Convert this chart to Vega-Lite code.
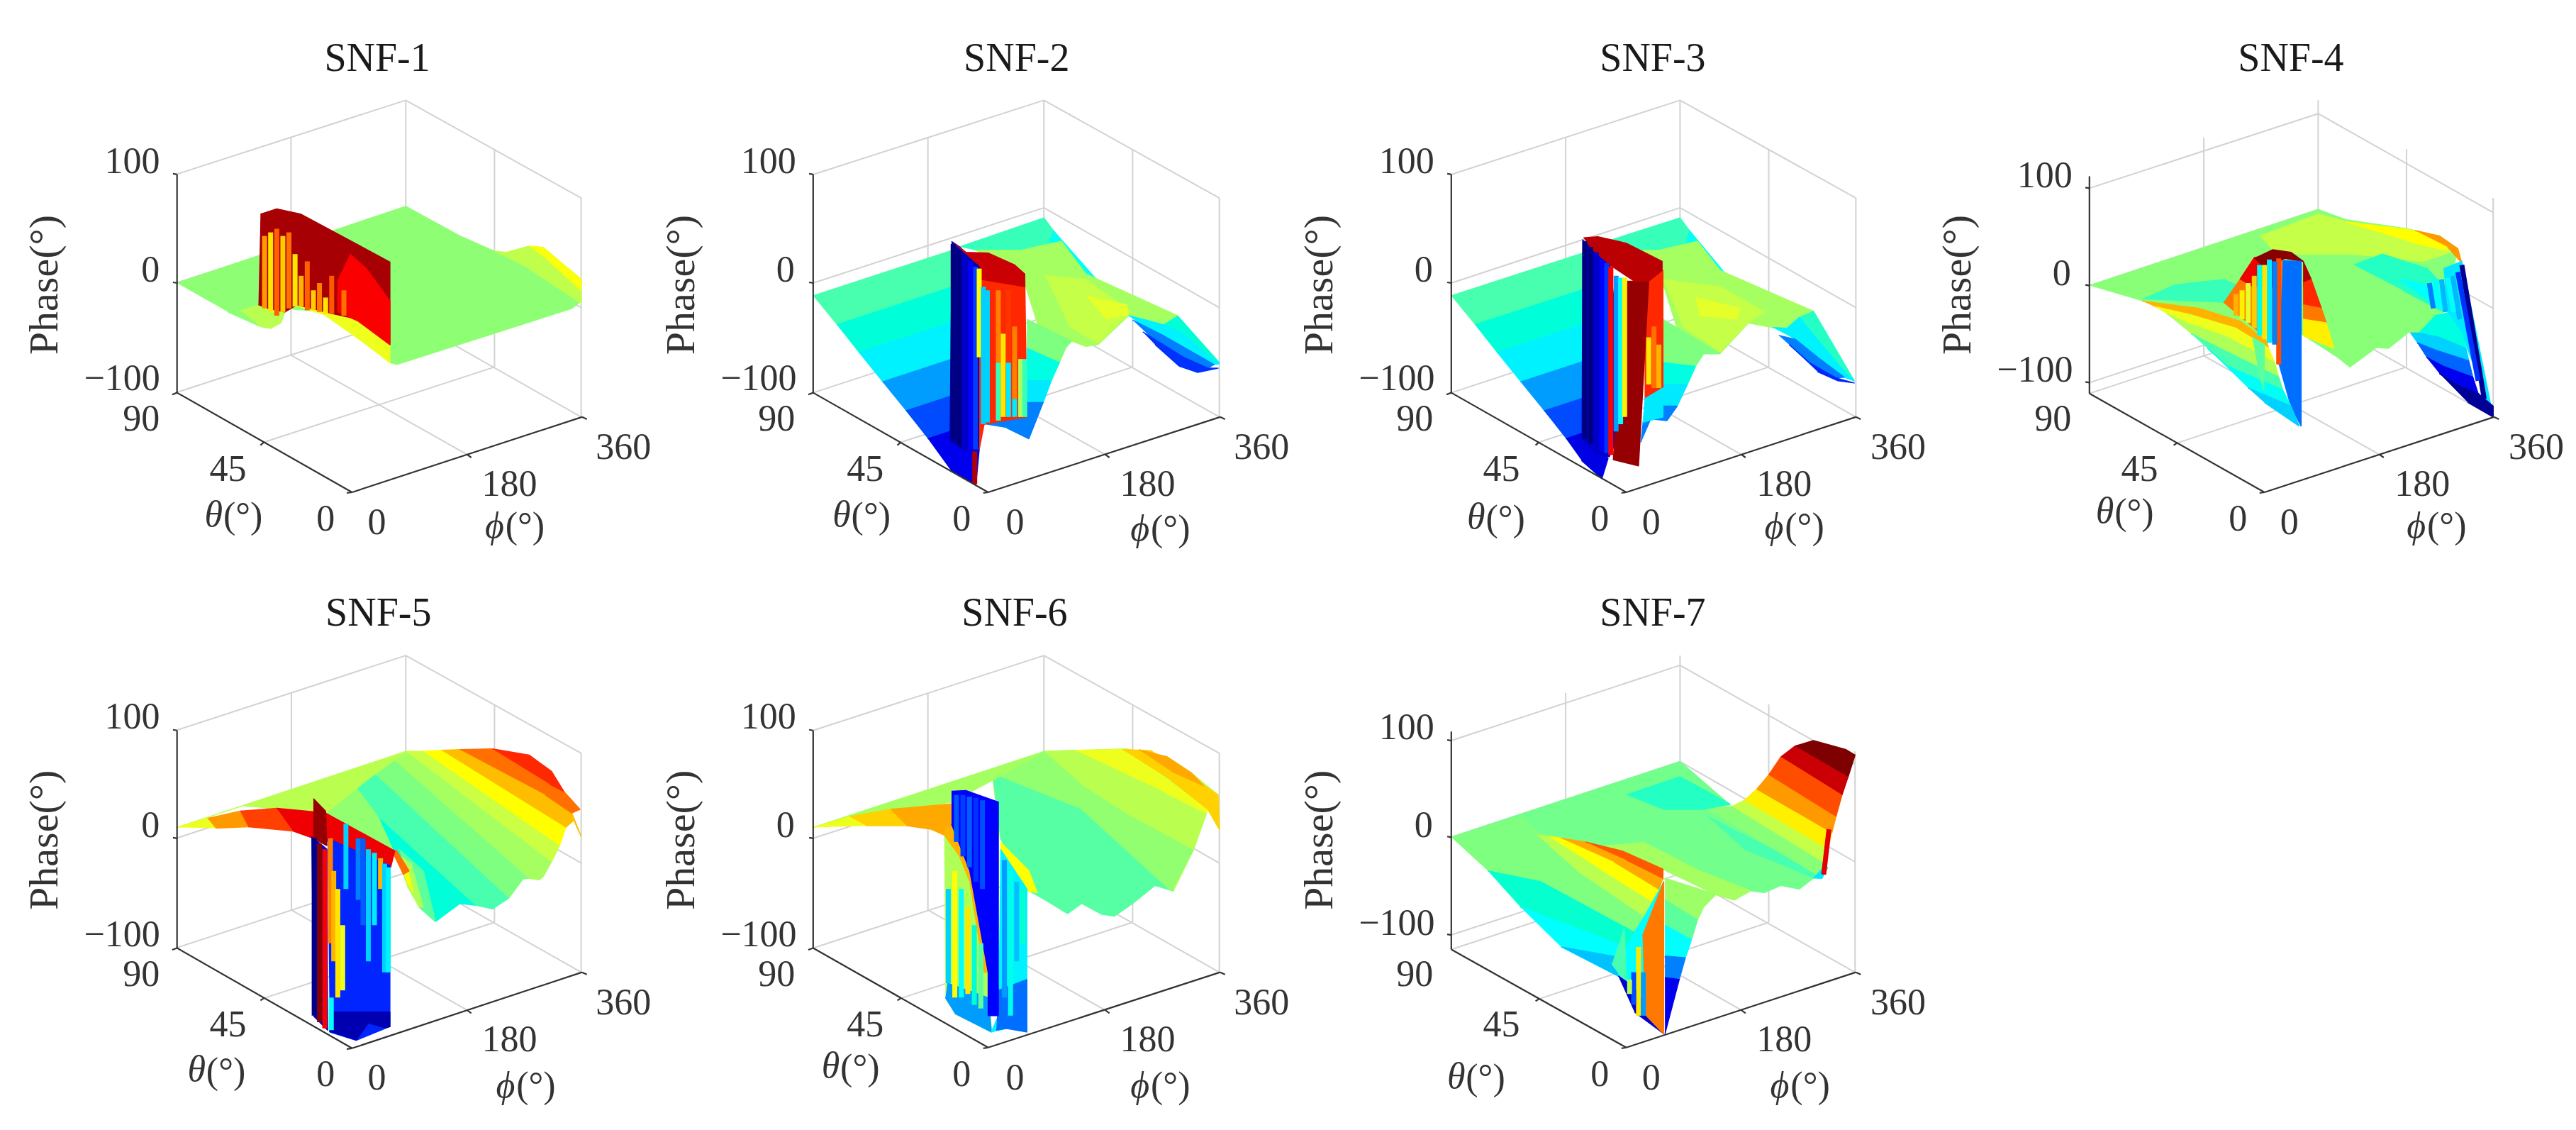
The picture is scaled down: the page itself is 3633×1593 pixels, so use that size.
{"$schema":"https://vega.github.io/schema/vega-lite/v6.json","padding":0,"background":"white","spacing":0,"bounds":"flush","columns":4,"config":{"view":{"stroke":null}},
"data":{"values":[
{"p":1,"g":1,"u":997,"v":275,"a":997,"b":875},{"p":1,"g":1,"u":1428,"v":545,"a":1428,"b":1150},{"p":1,"g":1,"u":715,"v":378,"a":715,"b":979},{"p":1,"g":1,"u":1215,"v":410,"a":1215,"b":1012},{"p":1,"g":1,"u":432,"v":480,"a":997,"b":275},{"p":1,"g":1,"u":997,"v":275,"a":1428,"b":545},{"p":1,"g":1,"u":432,"v":780,"a":997,"b":575},{"p":1,"g":1,"u":997,"v":575,"a":1428,"b":848},{"p":1,"g":1,"u":432,"v":1083,"a":997,"b":875},{"p":1,"g":1,"u":997,"v":875,"a":1428,"b":1150},{"p":1,"g":1,"u":715,"v":979,"a":1148,"b":1254},{"p":1,"g":1,"u":648,"v":1220,"a":1215,"b":1012},
{"p":1,"g":2,"u":435,"v":480,"a":435,"b":1083},{"p":1,"g":2,"u":435,"v":1083,"a":865,"b":1358},{"p":1,"g":2,"u":865,"v":1358,"a":1430,"b":1150},{"p":1,"g":2,"u":435,"v":480,"a":425,"b":478},{"p":1,"g":2,"u":435,"v":780,"a":425,"b":778},{"p":1,"g":2,"u":435,"v":1083,"a":423,"b":1088},{"p":1,"g":2,"u":648,"v":1220,"a":640,"b":1228},{"p":1,"g":2,"u":1148,"v":1254,"a":1158,"b":1262},{"p":1,"g":2,"u":865,"v":1358,"a":852,"b":1360},{"p":1,"g":2,"u":1430,"v":1150,"a":1442,"b":1156},
{"p":1,"c":"h","l":"SNF-1","u":927,"v":160},{"p":1,"c":"f","l":"Phase(°)","u":112,"v":785},{"p":1,"c":"t","l":"100","u":325,"v":445},{"p":1,"c":"t","l":"0","u":370,"v":745},{"p":1,"c":"t","l":"−100","u":300,"v":1045},{"p":1,"c":"t","l":"90","u":347,"v":1157},{"p":1,"c":"t","l":"45","u":560,"v":1295},{"p":1,"c":"t","l":"0","u":800,"v":1432},{"p":1,"c":"t","l":"0","u":926,"v":1442},{"p":1,"c":"t","l":"180","u":1252,"v":1337},{"p":1,"c":"t","l":"360","u":1532,"v":1235},{"p":1,"c":"i","l":"θ","u":525,"v":1420},{"p":1,"c":"t","l":"(°)","u":597,"v":1425},{"p":1,"c":"i","l":"ϕ","u":1215,"v":1452},{"p":1,"c":"t","l":"(°)","u":1290,"v":1452},
{"p":1,"k":1,"u":435,"v":780,"z":3},{"p":1,"k":1,"u":997,"v":568,"z":3},{"p":1,"k":1,"u":1130,"v":650,"z":3},{"p":1,"k":1,"u":1215,"v":692,"z":3},{"p":1,"k":1,"u":1300,"v":740,"z":3},{"p":1,"k":1,"u":1428,"v":830,"z":3},{"p":1,"k":1,"u":1405,"v":850,"z":3},{"p":1,"k":1,"u":975,"v":1005,"z":3},{"p":1,"k":1,"u":960,"v":1000,"z":3},{"p":1,"k":1,"u":870,"v":900,"z":3},{"p":1,"k":1,"u":800,"v":860,"z":3},{"p":1,"k":1,"u":700,"v":850,"z":3},{"p":1,"k":1,"u":665,"v":905,"z":3},{"p":1,"k":1,"u":640,"v":900,"z":3},{"p":1,"k":1,"u":560,"v":860,"z":3},
{"p":1,"k":2,"u":1215,"v":692,"z":13},{"p":1,"k":2,"u":1245,"v":695,"z":13},{"p":1,"k":2,"u":1300,"v":678,"z":13},{"p":1,"k":2,"u":1335,"v":682,"z":13},{"p":1,"k":2,"u":1428,"v":770,"z":13},{"p":1,"k":2,"u":1428,"v":835,"z":13},{"p":1,"k":2,"u":1380,"v":800,"z":13},{"p":1,"k":2,"u":1300,"v":740,"z":13},
{"p":1,"k":3,"u":1300,"v":678,"z":24},{"p":1,"k":3,"u":1335,"v":682,"z":24},{"p":1,"k":3,"u":1428,"v":770,"z":24},{"p":1,"k":3,"u":1428,"v":800,"z":24},{"p":1,"k":3,"u":1350,"v":720,"z":24},
{"p":1,"k":4,"u":590,"v":855,"z":12},{"p":1,"k":4,"u":650,"v":838,"z":12},{"p":1,"k":4,"u":700,"v":860,"z":12},{"p":1,"k":4,"u":690,"v":890,"z":12},{"p":1,"k":4,"u":665,"v":905,"z":12},{"p":1,"k":4,"u":640,"v":900,"z":12},
{"p":1,"k":5,"u":720,"v":840,"z":22},{"p":1,"k":5,"u":830,"v":870,"z":22},{"p":1,"k":5,"u":870,"v":870,"z":22},{"p":1,"k":5,"u":958,"v":945,"z":22},{"p":1,"k":5,"u":958,"v":1000,"z":22},{"p":1,"k":5,"u":930,"v":975,"z":22},{"p":1,"k":5,"u":870,"v":925,"z":22},{"p":1,"k":5,"u":800,"v":870,"z":22},
{"p":1,"k":6,"u":640,"v":590,"z":92},{"p":1,"k":6,"u":680,"v":575,"z":92},{"p":1,"k":6,"u":740,"v":590,"z":92},{"p":1,"k":6,"u":958,"v":722,"z":92},{"p":1,"k":6,"u":958,"v":950,"z":92},{"p":1,"k":6,"u":880,"v":880,"z":92},{"p":1,"k":6,"u":820,"v":865,"z":92},{"p":1,"k":6,"u":730,"v":840,"z":92},{"p":1,"k":6,"u":700,"v":860,"z":92},{"p":1,"k":6,"u":660,"v":850,"z":92},{"p":1,"k":6,"u":635,"v":840,"z":92},
{"p":1,"k":7,"u":860,"v":700,"z":76},{"p":1,"k":7,"u":900,"v":740,"z":76},{"p":1,"k":7,"u":958,"v":830,"z":76},{"p":1,"k":7,"u":958,"v":950,"z":76},{"p":1,"k":7,"u":880,"v":885,"z":76},{"p":1,"k":7,"u":830,"v":860,"z":76},{"p":1,"k":7,"u":830,"v":770,"z":76},
{"p":1,"s":1,"u":650,"v":650,"a":650,"b":850,"z":45},{"p":1,"s":1,"u":665,"v":640,"a":665,"b":860,"z":30},{"p":1,"s":1,"u":680,"v":630,"a":680,"b":870,"z":60},{"p":1,"s":1,"u":695,"v":650,"a":695,"b":860,"z":35},{"p":1,"s":1,"u":710,"v":640,"a":710,"b":850,"z":55},{"p":1,"s":1,"u":725,"v":700,"a":725,"b":845,"z":30},{"p":1,"s":1,"u":740,"v":760,"a":740,"b":845,"z":40},{"p":1,"s":1,"u":755,"v":720,"a":755,"b":855,"z":60},{"p":1,"s":1,"u":770,"v":800,"a":770,"b":855,"z":35},{"p":1,"s":1,"u":785,"v":780,"a":785,"b":860,"z":50},{"p":1,"s":1,"u":800,"v":820,"a":800,"b":865,"z":30},{"p":1,"s":1,"u":815,"v":760,"a":815,"b":865,"z":62},{"p":1,"s":1,"u":845,"v":800,"a":845,"b":870,"z":55},

{"p":2,"g":1,"u":997,"v":275,"a":997,"b":875},{"p":2,"g":1,"u":1428,"v":545,"a":1428,"b":1150},{"p":2,"g":1,"u":712,"v":378,"a":712,"b":979},{"p":2,"g":1,"u":1215,"v":410,"a":1215,"b":1012},{"p":2,"g":1,"u":430,"v":480,"a":997,"b":275},{"p":2,"g":1,"u":997,"v":275,"a":1428,"b":545},{"p":2,"g":1,"u":430,"v":780,"a":997,"b":572},{"p":2,"g":1,"u":997,"v":572,"a":1428,"b":848},{"p":2,"g":1,"u":430,"v":1083,"a":997,"b":875},{"p":2,"g":1,"u":997,"v":875,"a":1428,"b":1150},{"p":2,"g":1,"u":712,"v":979,"a":1148,"b":1254},{"p":2,"g":1,"u":645,"v":1220,"a":1215,"b":1012},
{"p":2,"g":2,"u":430,"v":480,"a":430,"b":1083},{"p":2,"g":2,"u":430,"v":1083,"a":860,"b":1358},{"p":2,"g":2,"u":860,"v":1358,"a":1430,"b":1150},{"p":2,"g":2,"u":430,"v":480,"a":420,"b":478},{"p":2,"g":2,"u":430,"v":780,"a":420,"b":778},{"p":2,"g":2,"u":430,"v":1083,"a":418,"b":1088},{"p":2,"g":2,"u":645,"v":1220,"a":637,"b":1228},{"p":2,"g":2,"u":1148,"v":1254,"a":1158,"b":1262},{"p":2,"g":2,"u":860,"v":1358,"a":848,"b":1360},{"p":2,"g":2,"u":1430,"v":1150,"a":1442,"b":1156},
{"p":2,"c":"h","l":"SNF-2","u":930,"v":160},{"p":2,"c":"f","l":"Phase(°)","u":108,"v":785},{"p":2,"c":"t","l":"100","u":320,"v":445},{"p":2,"c":"t","l":"0","u":362,"v":745},{"p":2,"c":"t","l":"−100","u":296,"v":1045},{"p":2,"c":"t","l":"90","u":340,"v":1157},{"p":2,"c":"t","l":"45","u":558,"v":1295},{"p":2,"c":"t","l":"0","u":795,"v":1432},{"p":2,"c":"t","l":"0","u":926,"v":1442},{"p":2,"c":"t","l":"180","u":1252,"v":1337},{"p":2,"c":"t","l":"360","u":1532,"v":1235},{"p":2,"c":"i","l":"θ","u":500,"v":1420},{"p":2,"c":"t","l":"(°)","u":572,"v":1425},{"p":2,"c":"i","l":"ϕ","u":1233,"v":1460},{"p":2,"c":"t","l":"(°)","u":1308,"v":1460},
{"p":2,"k":1,"u":430,"v":815,"z":-8},{"p":2,"k":1,"u":790,"v":683,"z":-8},{"p":2,"k":1,"u":790,"v":784,"z":-8},{"p":2,"k":1,"u":488,"v":895,"z":-8},
{"p":2,"k":2,"u":488,"v":895,"z":-16},{"p":2,"k":2,"u":790,"v":784,"z":-16},{"p":2,"k":2,"u":790,"v":881,"z":-16},{"p":2,"k":2,"u":542,"v":972,"z":-16},
{"p":2,"k":3,"u":542,"v":972,"z":-28},{"p":2,"k":3,"u":790,"v":881,"z":-28},{"p":2,"k":3,"u":790,"v":983,"z":-28},{"p":2,"k":3,"u":600,"v":1053,"z":-28},
{"p":2,"k":4,"u":600,"v":1053,"z":-45},{"p":2,"k":4,"u":790,"v":983,"z":-45},{"p":2,"k":4,"u":790,"v":1084,"z":-45},{"p":2,"k":4,"u":658,"v":1133,"z":-45},
{"p":2,"k":5,"u":658,"v":1133,"z":-65},{"p":2,"k":5,"u":790,"v":1084,"z":-65},{"p":2,"k":5,"u":790,"v":1181,"z":-65},{"p":2,"k":5,"u":712,"v":1210,"z":-65},
{"p":2,"k":6,"u":712,"v":1210,"z":-78},{"p":2,"k":6,"u":790,"v":1181,"z":-78},{"p":2,"k":6,"u":838,"v":1240,"z":-78},{"p":2,"k":6,"u":830,"v":1335,"z":-78},{"p":2,"k":6,"u":770,"v":1300,"z":-78},
{"p":2,"k":7,"u":790,"v":680,"z":-10},{"p":2,"k":7,"u":997,"v":600,"z":-10},{"p":2,"k":7,"u":1040,"v":665,"z":-10},{"p":2,"k":7,"u":940,"v":690,"z":-10},{"p":2,"k":7,"u":830,"v":690,"z":-10},
{"p":2,"k":8,"u":1020,"v":635,"z":-22},{"p":2,"k":8,"u":1130,"v":775,"z":-22},{"p":2,"k":8,"u":1090,"v":755,"z":-22},{"p":2,"k":8,"u":1000,"v":695,"z":-22},
{"p":2,"k":9,"u":830,"v":690,"z":8},{"p":2,"k":9,"u":940,"v":690,"z":8},{"p":2,"k":9,"u":1040,"v":665,"z":8},{"p":2,"k":9,"u":1100,"v":755,"z":8},{"p":2,"k":9,"u":1325,"v":870,"z":8},{"p":2,"k":9,"u":1290,"v":895,"z":8},{"p":2,"k":9,"u":1240,"v":880,"z":8},{"p":2,"k":9,"u":1205,"v":870,"z":8},{"p":2,"k":9,"u":1130,"v":950,"z":8},{"p":2,"k":9,"u":1100,"v":955,"z":8},{"p":2,"k":9,"u":1065,"v":940,"z":8},{"p":2,"k":9,"u":1000,"v":960,"z":8},{"p":2,"k":9,"u":950,"v":780,"z":8},
{"p":2,"k":10,"u":1000,"v":760,"z":14},{"p":2,"k":10,"u":1100,"v":770,"z":14},{"p":2,"k":10,"u":1210,"v":860,"z":14},{"p":2,"k":10,"u":1130,"v":945,"z":14},{"p":2,"k":10,"u":1060,"v":900,"z":14},
{"p":2,"k":11,"u":1100,"v":815,"z":20},{"p":2,"k":11,"u":1200,"v":840,"z":20},{"p":2,"k":11,"u":1205,"v":868,"z":20},{"p":2,"k":11,"u":1150,"v":880,"z":20},
{"p":2,"k":12,"u":1325,"v":870,"z":-15},{"p":2,"k":12,"u":1428,"v":1000,"z":-15},{"p":2,"k":12,"u":1410,"v":990,"z":-15},{"p":2,"k":12,"u":1340,"v":920,"z":-15},{"p":2,"k":12,"u":1290,"v":895,"z":-15},
{"p":2,"k":13,"u":1205,"v":870,"z":-28},{"p":2,"k":13,"u":1240,"v":880,"z":-28},{"p":2,"k":13,"u":1290,"v":895,"z":-28},{"p":2,"k":13,"u":1340,"v":920,"z":-28},{"p":2,"k":13,"u":1410,"v":990,"z":-28},{"p":2,"k":13,"u":1428,"v":1003,"z":-28},{"p":2,"k":13,"u":1415,"v":1005,"z":-28},{"p":2,"k":13,"u":1360,"v":970,"z":-28},{"p":2,"k":13,"u":1230,"v":890,"z":-28},
{"p":2,"k":14,"u":1215,"v":882,"z":-50},{"p":2,"k":14,"u":1290,"v":925,"z":-50},{"p":2,"k":14,"u":1360,"v":970,"z":-50},{"p":2,"k":14,"u":1415,"v":1005,"z":-50},{"p":2,"k":14,"u":1400,"v":1015,"z":-50},{"p":2,"k":14,"u":1340,"v":985,"z":-50},{"p":2,"k":14,"u":1260,"v":930,"z":-50},
{"p":2,"k":15,"u":1240,"v":915,"z":-70},{"p":2,"k":15,"u":1340,"v":985,"z":-70},{"p":2,"k":15,"u":1400,"v":1015,"z":-70},{"p":2,"k":15,"u":1425,"v":1015,"z":-70},{"p":2,"k":15,"u":1375,"v":1027,"z":-70},{"p":2,"k":15,"u":1330,"v":1010,"z":-70},{"p":2,"k":15,"u":1270,"v":950,"z":-70},
{"p":2,"k":16,"u":955,"v":880,"z":0},{"p":2,"k":16,"u":1065,"v":940,"z":0},{"p":2,"k":16,"u":1050,"v":960,"z":0},{"p":2,"k":16,"u":1035,"v":1000,"z":0},{"p":2,"k":16,"u":955,"v":970,"z":0},
{"p":2,"k":17,"u":955,"v":960,"z":-18},{"p":2,"k":17,"u":1035,"v":1000,"z":-18},{"p":2,"k":17,"u":1015,"v":1050,"z":-18},{"p":2,"k":17,"u":955,"v":1050,"z":-18},
{"p":2,"k":18,"u":955,"v":1050,"z":-30},{"p":2,"k":18,"u":1015,"v":1050,"z":-30},{"p":2,"k":18,"u":995,"v":1110,"z":-30},{"p":2,"k":18,"u":955,"v":1110,"z":-30},
{"p":2,"k":19,"u":850,"v":1170,"z":-50},{"p":2,"k":19,"u":955,"v":1110,"z":-50},{"p":2,"k":19,"u":995,"v":1110,"z":-50},{"p":2,"k":19,"u":960,"v":1210,"z":-50},{"p":2,"k":19,"u":905,"v":1180,"z":-50},
{"p":2,"k":20,"u":770,"v":665,"z":-90},{"p":2,"k":20,"u":790,"v":680,"z":-90},{"p":2,"k":20,"u":840,"v":735,"z":-90},{"p":2,"k":20,"u":838,"v":1240,"z":-90},{"p":2,"k":20,"u":800,"v":1240,"z":-90},{"p":2,"k":20,"u":765,"v":1215,"z":-90},
{"p":2,"k":21,"u":838,"v":760,"z":72},{"p":2,"k":21,"u":950,"v":770,"z":72},{"p":2,"k":21,"u":955,"v":1150,"z":72},{"p":2,"k":21,"u":925,"v":1155,"z":72},{"p":2,"k":21,"u":850,"v":1170,"z":72},{"p":2,"k":21,"u":838,"v":1240,"z":72},
{"p":2,"k":22,"u":775,"v":670,"z":85},{"p":2,"k":22,"u":805,"v":695,"z":85},{"p":2,"k":22,"u":860,"v":697,"z":85},{"p":2,"k":22,"u":925,"v":730,"z":85},{"p":2,"k":22,"u":950,"v":755,"z":85},{"p":2,"k":22,"u":950,"v":790,"z":85},{"p":2,"k":22,"u":845,"v":770,"z":85},{"p":2,"k":22,"u":840,"v":735,"z":85},
{"p":2,"s":1,"u":774,"v":672,"a":774,"b":1215,"z":-100},{"p":2,"s":1,"u":788,"v":690,"a":788,"b":1228,"z":-100},{"p":2,"s":1,"u":802,"v":705,"a":802,"b":1238,"z":-85},{"p":2,"s":1,"u":816,"v":720,"a":816,"b":1240,"z":-75},{"p":2,"s":1,"u":829,"v":735,"a":829,"b":1240,"z":-68},{"p":2,"s":1,"u":827,"v":1245,"a":827,"b":1335,"z":90},{"p":2,"s":1,"u":838,"v":740,"a":838,"b":985,"z":25},{"p":2,"s":1,"u":848,"v":790,"a":848,"b":1170,"z":-35},{"p":2,"s":1,"u":858,"v":800,"a":858,"b":1165,"z":-35},{"p":2,"s":1,"u":885,"v":800,"a":885,"b":1000,"z":50},{"p":2,"s":1,"u":885,"v":1000,"a":885,"b":1160,"z":-10},{"p":2,"s":1,"u":897,"v":920,"a":897,"b":1150,"z":30},{"p":2,"s":1,"u":910,"v":800,"a":910,"b":1000,"z":70},{"p":2,"s":1,"u":910,"v":1000,"a":910,"b":1150,"z":-30},{"p":2,"s":1,"u":925,"v":900,"a":925,"b":1100,"z":50},{"p":2,"s":1,"u":925,"v":1100,"a":925,"b":1150,"z":-30},{"p":2,"s":1,"u":940,"v":990,"a":940,"b":1150,"z":10},{"p":2,"s":1,"u":950,"v":990,"a":950,"b":1150,"z":-10},

{"p":3,"g":1,"u":992,"v":275,"a":992,"b":875},{"p":3,"g":1,"u":1424,"v":545,"a":1424,"b":1150},{"p":3,"g":1,"u":711,"v":378,"a":711,"b":979},{"p":3,"g":1,"u":1210,"v":410,"a":1210,"b":1012},{"p":3,"g":1,"u":430,"v":480,"a":992,"b":275},{"p":3,"g":1,"u":992,"v":275,"a":1424,"b":545},{"p":3,"g":1,"u":430,"v":780,"a":992,"b":572},{"p":3,"g":1,"u":992,"v":572,"a":1424,"b":848},{"p":3,"g":1,"u":430,"v":1083,"a":992,"b":875},{"p":3,"g":1,"u":992,"v":875,"a":1424,"b":1150},{"p":3,"g":1,"u":711,"v":979,"a":1143,"b":1254},{"p":3,"g":1,"u":645,"v":1220,"a":1210,"b":1012},
{"p":3,"g":2,"u":430,"v":480,"a":430,"b":1083},{"p":3,"g":2,"u":430,"v":1083,"a":860,"b":1358},{"p":3,"g":2,"u":860,"v":1358,"a":1424,"b":1150},{"p":3,"g":2,"u":430,"v":480,"a":420,"b":478},{"p":3,"g":2,"u":430,"v":780,"a":420,"b":778},{"p":3,"g":2,"u":430,"v":1083,"a":418,"b":1088},{"p":3,"g":2,"u":645,"v":1220,"a":637,"b":1228},{"p":3,"g":2,"u":1143,"v":1254,"a":1153,"b":1262},{"p":3,"g":2,"u":860,"v":1358,"a":848,"b":1360},{"p":3,"g":2,"u":1424,"v":1150,"a":1436,"b":1156},
{"p":3,"c":"h","l":"SNF-3","u":925,"v":160},{"p":3,"c":"f","l":"Phase(°)","u":108,"v":785},{"p":3,"c":"t","l":"100","u":320,"v":445},{"p":3,"c":"t","l":"0","u":362,"v":745},{"p":3,"c":"t","l":"−100","u":296,"v":1045},{"p":3,"c":"t","l":"90","u":340,"v":1157},{"p":3,"c":"t","l":"45","u":553,"v":1295},{"p":3,"c":"t","l":"0","u":795,"v":1432},{"p":3,"c":"t","l":"0","u":921,"v":1442},{"p":3,"c":"t","l":"180","u":1248,"v":1337},{"p":3,"c":"t","l":"360","u":1528,"v":1235},{"p":3,"c":"i","l":"θ","u":491,"v":1427},{"p":3,"c":"t","l":"(°)","u":563,"v":1432},{"p":3,"c":"i","l":"ϕ","u":1223,"v":1455},{"p":3,"c":"t","l":"(°)","u":1298,"v":1455},
{"p":3,"k":1,"u":430,"v":815,"z":-8},{"p":3,"k":1,"u":775,"v":689,"z":-8},{"p":3,"k":1,"u":775,"v":790,"z":-8},{"p":3,"k":1,"u":488,"v":895,"z":-8},
{"p":3,"k":2,"u":488,"v":895,"z":-16},{"p":3,"k":2,"u":775,"v":790,"z":-16},{"p":3,"k":2,"u":775,"v":886,"z":-16},{"p":3,"k":2,"u":542,"v":972,"z":-16},
{"p":3,"k":3,"u":542,"v":972,"z":-28},{"p":3,"k":3,"u":775,"v":886,"z":-28},{"p":3,"k":3,"u":775,"v":989,"z":-28},{"p":3,"k":3,"u":600,"v":1053,"z":-28},
{"p":3,"k":4,"u":600,"v":1053,"z":-45},{"p":3,"k":4,"u":775,"v":989,"z":-45},{"p":3,"k":4,"u":775,"v":1090,"z":-45},{"p":3,"k":4,"u":658,"v":1133,"z":-45},
{"p":3,"k":5,"u":658,"v":1133,"z":-65},{"p":3,"k":5,"u":775,"v":1090,"z":-65},{"p":3,"k":5,"u":775,"v":1186,"z":-65},{"p":3,"k":5,"u":712,"v":1210,"z":-65},
{"p":3,"k":6,"u":712,"v":1210,"z":-80},{"p":3,"k":6,"u":775,"v":1186,"z":-80},{"p":3,"k":6,"u":815,"v":1265,"z":-80},{"p":3,"k":6,"u":800,"v":1320,"z":-80},{"p":3,"k":6,"u":750,"v":1270,"z":-80},
{"p":3,"k":7,"u":770,"v":680,"z":-10},{"p":3,"k":7,"u":992,"v":600,"z":-10},{"p":3,"k":7,"u":1035,"v":665,"z":-10},{"p":3,"k":7,"u":940,"v":690,"z":-10},{"p":3,"k":7,"u":830,"v":690,"z":-10},
{"p":3,"k":8,"u":1015,"v":635,"z":-22},{"p":3,"k":8,"u":1115,"v":770,"z":-22},{"p":3,"k":8,"u":1080,"v":750,"z":-22},{"p":3,"k":8,"u":1000,"v":695,"z":-22},
{"p":3,"k":9,"u":830,"v":690,"z":8},{"p":3,"k":9,"u":940,"v":690,"z":8},{"p":3,"k":9,"u":1035,"v":665,"z":8},{"p":3,"k":9,"u":1090,"v":745,"z":8},{"p":3,"k":9,"u":1320,"v":858,"z":8},{"p":3,"k":9,"u":1285,"v":875,"z":8},{"p":3,"k":9,"u":1255,"v":905,"z":8},{"p":3,"k":9,"u":1220,"v":903,"z":8},{"p":3,"k":9,"u":1160,"v":890,"z":8},{"p":3,"k":9,"u":1090,"v":975,"z":8},{"p":3,"k":9,"u":1050,"v":975,"z":8},{"p":3,"k":9,"u":1000,"v":960,"z":8},{"p":3,"k":9,"u":950,"v":780,"z":8},
{"p":3,"k":10,"u":950,"v":770,"z":14},{"p":3,"k":10,"u":1090,"v":790,"z":14},{"p":3,"k":10,"u":1200,"v":860,"z":14},{"p":3,"k":10,"u":1160,"v":888,"z":14},{"p":3,"k":10,"u":1090,"v":970,"z":14},{"p":3,"k":10,"u":1000,"v":900,"z":14},
{"p":3,"k":11,"u":1030,"v":820,"z":20},{"p":3,"k":11,"u":1140,"v":850,"z":20},{"p":3,"k":11,"u":1130,"v":880,"z":20},{"p":3,"k":11,"u":1040,"v":870,"z":20},
{"p":3,"k":12,"u":1285,"v":875,"z":-12},{"p":3,"k":12,"u":1320,"v":858,"z":-12},{"p":3,"k":12,"u":1420,"v":1050,"z":-12},{"p":3,"k":12,"u":1400,"v":1030,"z":-12},{"p":3,"k":12,"u":1340,"v":950,"z":-12},
{"p":3,"k":13,"u":1220,"v":903,"z":-28},{"p":3,"k":13,"u":1255,"v":905,"z":-28},{"p":3,"k":13,"u":1285,"v":875,"z":-28},{"p":3,"k":13,"u":1340,"v":950,"z":-28},{"p":3,"k":13,"u":1400,"v":1030,"z":-28},{"p":3,"k":13,"u":1420,"v":1050,"z":-28},{"p":3,"k":13,"u":1395,"v":1040,"z":-28},{"p":3,"k":13,"u":1330,"v":985,"z":-28},{"p":3,"k":13,"u":1275,"v":935,"z":-28},
{"p":3,"k":14,"u":1235,"v":925,"z":-50},{"p":3,"k":14,"u":1275,"v":935,"z":-50},{"p":3,"k":14,"u":1330,"v":985,"z":-50},{"p":3,"k":14,"u":1395,"v":1040,"z":-50},{"p":3,"k":14,"u":1375,"v":1042,"z":-50},{"p":3,"k":14,"u":1310,"v":1000,"z":-50},
{"p":3,"k":15,"u":1260,"v":950,"z":-72},{"p":3,"k":15,"u":1310,"v":1000,"z":-72},{"p":3,"k":15,"u":1375,"v":1042,"z":-72},{"p":3,"k":15,"u":1420,"v":1056,"z":-72},{"p":3,"k":15,"u":1380,"v":1050,"z":-72},{"p":3,"k":15,"u":1330,"v":1025,"z":-72},
{"p":3,"k":16,"u":950,"v":880,"z":0},{"p":3,"k":16,"u":1090,"v":975,"z":0},{"p":3,"k":16,"u":1050,"v":975,"z":0},{"p":3,"k":16,"u":1030,"v":1010,"z":0},{"p":3,"k":16,"u":950,"v":1000,"z":0},
{"p":3,"k":17,"u":950,"v":1000,"z":-18},{"p":3,"k":17,"u":1030,"v":1010,"z":-18},{"p":3,"k":17,"u":1010,"v":1060,"z":-18},{"p":3,"k":17,"u":950,"v":1060,"z":-18},
{"p":3,"k":18,"u":950,"v":1060,"z":-30},{"p":3,"k":18,"u":1010,"v":1060,"z":-30},{"p":3,"k":18,"u":985,"v":1120,"z":-30},{"p":3,"k":18,"u":950,"v":1120,"z":-30},
{"p":3,"k":19,"u":900,"v":1165,"z":-50},{"p":3,"k":19,"u":950,"v":1120,"z":-50},{"p":3,"k":19,"u":985,"v":1120,"z":-50},{"p":3,"k":19,"u":960,"v":1160,"z":-50},{"p":3,"k":19,"u":920,"v":1155,"z":-50},{"p":3,"k":19,"u":895,"v":1220,"z":-50},
{"p":3,"k":20,"u":752,"v":660,"z":-85},{"p":3,"k":20,"u":820,"v":730,"z":-85},{"p":3,"k":20,"u":862,"v":1150,"z":-85},{"p":3,"k":20,"u":818,"v":1260,"z":-85},{"p":3,"k":20,"u":785,"v":1250,"z":-85},{"p":3,"k":20,"u":750,"v":1210,"z":-85},
{"p":3,"k":21,"u":905,"v":780,"z":72},{"p":3,"k":21,"u":950,"v":745,"z":72},{"p":3,"k":21,"u":950,"v":1070,"z":72},{"p":3,"k":21,"u":915,"v":1100,"z":72},{"p":3,"k":21,"u":905,"v":1100,"z":72},
{"p":3,"k":22,"u":905,"v":1100,"z":-30},{"p":3,"k":22,"u":950,"v":1070,"z":-30},{"p":3,"k":22,"u":950,"v":1150,"z":-30},{"p":3,"k":22,"u":900,"v":1165,"z":-30},
{"p":3,"k":23,"u":862,"v":775,"z":95},{"p":3,"k":23,"u":915,"v":775,"z":95},{"p":3,"k":23,"u":890,"v":1285,"z":95},{"p":3,"k":23,"u":828,"v":1268,"z":95},{"p":3,"k":23,"u":845,"v":1000,"z":95},
{"p":3,"k":24,"u":755,"v":655,"z":88},{"p":3,"k":24,"u":790,"v":652,"z":88},{"p":3,"k":24,"u":860,"v":670,"z":88},{"p":3,"k":24,"u":948,"v":720,"z":88},{"p":3,"k":24,"u":948,"v":745,"z":88},{"p":3,"k":24,"u":915,"v":775,"z":88},{"p":3,"k":24,"u":880,"v":775,"z":88},{"p":3,"k":24,"u":820,"v":730,"z":88},{"p":3,"k":24,"u":770,"v":680,"z":88},
{"p":3,"s":1,"u":758,"v":665,"a":758,"b":1210,"z":-100},{"p":3,"s":1,"u":772,"v":680,"a":772,"b":1225,"z":-100},{"p":3,"s":1,"u":786,"v":695,"a":786,"b":1240,"z":-85},{"p":3,"s":1,"u":800,"v":715,"a":800,"b":1245,"z":-75},{"p":3,"s":1,"u":812,"v":725,"a":812,"b":1250,"z":-70},{"p":3,"s":1,"u":822,"v":735,"a":822,"b":1255,"z":75},{"p":3,"s":1,"u":835,"v":760,"a":835,"b":1190,"z":-45},{"p":3,"s":1,"u":846,"v":765,"a":846,"b":1170,"z":-25},{"p":3,"s":1,"u":856,"v":765,"a":856,"b":1150,"z":28},{"p":3,"s":1,"u":915,"v":930,"a":915,"b":1060,"z":30},{"p":3,"s":1,"u":928,"v":900,"a":928,"b":1070,"z":55},{"p":3,"s":1,"u":940,"v":950,"a":940,"b":1070,"z":40},

{"p":4,"g":1,"u":992,"v":275,"a":992,"b":877},{"p":4,"g":1,"u":1422,"v":545,"a":1422,"b":1150},{"p":4,"g":1,"u":711,"v":378,"a":711,"b":981},{"p":4,"g":1,"u":1209,"v":410,"a":1209,"b":1012},{"p":4,"g":1,"u":430,"v":518,"a":992,"b":312},{"p":4,"g":1,"u":992,"v":312,"a":1422,"b":585},{"p":4,"g":1,"u":430,"v":787,"a":992,"b":577},{"p":4,"g":1,"u":992,"v":577,"a":1422,"b":850},{"p":4,"g":1,"u":430,"v":1085,"a":992,"b":877},{"p":4,"g":1,"u":992,"v":877,"a":1422,"b":1150},{"p":4,"g":1,"u":430,"v":1055,"a":992,"b":848},{"p":4,"g":1,"u":711,"v":981,"a":1143,"b":1254},{"p":4,"g":1,"u":645,"v":1222,"a":1209,"b":1012},
{"p":4,"g":2,"u":430,"v":485,"a":430,"b":1085},{"p":4,"g":2,"u":430,"v":1085,"a":860,"b":1358},{"p":4,"g":2,"u":860,"v":1358,"a":1424,"b":1150},{"p":4,"g":2,"u":430,"v":518,"a":420,"b":516},{"p":4,"g":2,"u":430,"v":787,"a":420,"b":785},{"p":4,"g":2,"u":430,"v":1055,"a":420,"b":1053},{"p":4,"g":2,"u":645,"v":1222,"a":637,"b":1228},{"p":4,"g":2,"u":1143,"v":1254,"a":1153,"b":1262},{"p":4,"g":2,"u":860,"v":1358,"a":848,"b":1360},{"p":4,"g":2,"u":1424,"v":1150,"a":1436,"b":1156},
{"p":4,"c":"h","l":"SNF-4","u":925,"v":160},{"p":4,"c":"f","l":"Phase(°)","u":108,"v":785},{"p":4,"c":"t","l":"100","u":320,"v":485},{"p":4,"c":"t","l":"0","u":362,"v":755},{"p":4,"c":"t","l":"−100","u":296,"v":1020},{"p":4,"c":"t","l":"90","u":340,"v":1157},{"p":4,"c":"t","l":"45","u":553,"v":1295},{"p":4,"c":"t","l":"0","u":795,"v":1432},{"p":4,"c":"t","l":"0","u":921,"v":1442},{"p":4,"c":"t","l":"180","u":1248,"v":1337},{"p":4,"c":"t","l":"360","u":1528,"v":1235},{"p":4,"c":"i","l":"θ","u":468,"v":1410},{"p":4,"c":"t","l":"(°)","u":540,"v":1415},{"p":4,"c":"i","l":"ϕ","u":1233,"v":1452},{"p":4,"c":"t","l":"(°)","u":1308,"v":1452},
{"p":4,"k":1,"u":430,"v":787,"z":2},{"p":4,"k":1,"u":992,"v":577,"z":2},{"p":4,"k":1,"u":1060,"v":605,"z":2},{"p":4,"k":1,"u":1210,"v":630,"z":2},{"p":4,"k":1,"u":1290,"v":650,"z":2},{"p":4,"k":1,"u":1335,"v":685,"z":2},{"p":4,"k":1,"u":1300,"v":860,"z":2},{"p":4,"k":1,"u":1280,"v":870,"z":2},{"p":4,"k":1,"u":1240,"v":920,"z":2},{"p":4,"k":1,"u":1215,"v":915,"z":2},{"p":4,"k":1,"u":1165,"v":960,"z":2},{"p":4,"k":1,"u":1135,"v":958,"z":2},{"p":4,"k":1,"u":1070,"v":1012,"z":2},{"p":4,"k":1,"u":1040,"v":985,"z":2},{"p":4,"k":1,"u":950,"v":920,"z":2},{"p":4,"k":1,"u":905,"v":950,"z":2},{"p":4,"k":1,"u":865,"v":940,"z":2},{"p":4,"k":1,"u":800,"v":885,"z":2},{"p":4,"k":1,"u":700,"v":850,"z":2},{"p":4,"k":1,"u":560,"v":830,"z":2},
{"p":4,"k":2,"u":560,"v":825,"z":-10},{"p":4,"k":2,"u":640,"v":785,"z":-10},{"p":4,"k":2,"u":760,"v":770,"z":-10},{"p":4,"k":2,"u":800,"v":790,"z":-10},{"p":4,"k":2,"u":770,"v":835,"z":-10},
{"p":4,"k":3,"u":850,"v":650,"z":14},{"p":4,"k":3,"u":992,"v":590,"z":14},{"p":4,"k":3,"u":1060,"v":610,"z":14},{"p":4,"k":3,"u":1210,"v":632,"z":14},{"p":4,"k":3,"u":1290,"v":652,"z":14},{"p":4,"k":3,"u":1330,"v":690,"z":14},{"p":4,"k":3,"u":1250,"v":720,"z":14},{"p":4,"k":3,"u":1080,"v":700,"z":14},{"p":4,"k":3,"u":950,"v":700,"z":14},{"p":4,"k":3,"u":880,"v":690,"z":14},
{"p":4,"k":4,"u":1060,"v":612,"z":25},{"p":4,"k":4,"u":1210,"v":632,"z":25},{"p":4,"k":4,"u":1290,"v":652,"z":25},{"p":4,"k":4,"u":1310,"v":690,"z":25},{"p":4,"k":4,"u":1230,"v":670,"z":25},
{"p":4,"k":5,"u":1230,"v":635,"z":45},{"p":4,"k":5,"u":1290,"v":650,"z":45},{"p":4,"k":5,"u":1335,"v":685,"z":45},{"p":4,"k":5,"u":1345,"v":725,"z":45},{"p":4,"k":5,"u":1310,"v":680,"z":45},
{"p":4,"k":6,"u":1080,"v":730,"z":-12},{"p":4,"k":6,"u":1150,"v":700,"z":-12},{"p":4,"k":6,"u":1260,"v":740,"z":-12},{"p":4,"k":6,"u":1310,"v":800,"z":-12},{"p":4,"k":6,"u":1300,"v":860,"z":-12},{"p":4,"k":6,"u":1200,"v":800,"z":-12},
{"p":4,"k":7,"u":1190,"v":770,"z":-25},{"p":4,"k":7,"u":1280,"v":790,"z":-25},{"p":4,"k":7,"u":1320,"v":850,"z":-25},{"p":4,"k":7,"u":1290,"v":850,"z":-25},
{"p":4,"k":30,"u":1300,"v":740,"z":-30},{"p":4,"k":30,"u":1345,"v":720,"z":-30},{"p":4,"k":30,"u":1422,"v":1150,"z":-30},{"p":4,"k":30,"u":1345,"v":920,"z":-30},{"p":4,"k":30,"u":1310,"v":862,"z":-30},
{"p":4,"k":8,"u":1240,"v":918,"z":-18},{"p":4,"k":8,"u":1280,"v":870,"z":-18},{"p":4,"k":8,"u":1310,"v":862,"z":-18},{"p":4,"k":8,"u":1345,"v":920,"z":-18},{"p":4,"k":8,"u":1355,"v":960,"z":-18},{"p":4,"k":8,"u":1290,"v":930,"z":-18},
{"p":4,"k":9,"u":1218,"v":918,"z":-35},{"p":4,"k":9,"u":1240,"v":918,"z":-35},{"p":4,"k":9,"u":1290,"v":930,"z":-35},{"p":4,"k":9,"u":1355,"v":960,"z":-35},{"p":4,"k":9,"u":1362,"v":995,"z":-35},{"p":4,"k":9,"u":1280,"v":965,"z":-35},{"p":4,"k":9,"u":1235,"v":945,"z":-35},
{"p":4,"k":10,"u":1235,"v":945,"z":-58},{"p":4,"k":10,"u":1280,"v":965,"z":-58},{"p":4,"k":10,"u":1362,"v":995,"z":-58},{"p":4,"k":10,"u":1372,"v":1040,"z":-58},{"p":4,"k":10,"u":1300,"v":1010,"z":-58},{"p":4,"k":10,"u":1258,"v":985,"z":-58},
{"p":4,"k":11,"u":1258,"v":985,"z":-78},{"p":4,"k":11,"u":1300,"v":1010,"z":-78},{"p":4,"k":11,"u":1372,"v":1040,"z":-78},{"p":4,"k":11,"u":1385,"v":1085,"z":-78},{"p":4,"k":11,"u":1330,"v":1060,"z":-78},{"p":4,"k":11,"u":1290,"v":1030,"z":-78},
{"p":4,"k":12,"u":1290,"v":1030,"z":-95},{"p":4,"k":12,"u":1330,"v":1060,"z":-95},{"p":4,"k":12,"u":1385,"v":1085,"z":-95},{"p":4,"k":12,"u":1422,"v":1120,"z":-95},{"p":4,"k":12,"u":1422,"v":1150,"z":-95},{"p":4,"k":12,"u":1360,"v":1110,"z":-95},
{"p":4,"k":13,"u":955,"v":720,"z":90},{"p":4,"k":13,"u":975,"v":770,"z":90},{"p":4,"k":13,"u":955,"v":790,"z":90},
{"p":4,"k":14,"u":955,"v":780,"z":72},{"p":4,"k":14,"u":975,"v":770,"z":72},{"p":4,"k":14,"u":1000,"v":850,"z":72},{"p":4,"k":14,"u":955,"v":840,"z":72},
{"p":4,"k":15,"u":955,"v":840,"z":52},{"p":4,"k":15,"u":1000,"v":850,"z":52},{"p":4,"k":15,"u":1012,"v":890,"z":52},{"p":4,"k":15,"u":955,"v":880,"z":52},
{"p":4,"k":16,"u":955,"v":880,"z":28},{"p":4,"k":16,"u":1012,"v":890,"z":28},{"p":4,"k":16,"u":1030,"v":960,"z":28},{"p":4,"k":16,"u":955,"v":925,"z":28},
{"p":4,"k":17,"u":760,"v":835,"z":52},{"p":4,"k":17,"u":800,"v":770,"z":52},{"p":4,"k":17,"u":835,"v":710,"z":52},{"p":4,"k":17,"u":905,"v":720,"z":52},{"p":4,"k":17,"u":905,"v":950,"z":52},{"p":4,"k":17,"u":860,"v":930,"z":52},
{"p":4,"k":18,"u":800,"v":770,"z":78},{"p":4,"k":18,"u":835,"v":710,"z":78},{"p":4,"k":18,"u":880,"v":700,"z":78},{"p":4,"k":18,"u":880,"v":790,"z":78},{"p":4,"k":18,"u":830,"v":790,"z":78},
{"p":4,"k":19,"u":835,"v":712,"z":98},{"p":4,"k":19,"u":880,"v":688,"z":98},{"p":4,"k":19,"u":925,"v":695,"z":98},{"p":4,"k":19,"u":955,"v":720,"z":98},{"p":4,"k":19,"u":910,"v":712,"z":98},{"p":4,"k":19,"u":860,"v":740,"z":98},
{"p":4,"k":20,"u":905,"v":718,"z":-55},{"p":4,"k":20,"u":950,"v":720,"z":-55},{"p":4,"k":20,"u":950,"v":1175,"z":-55},{"p":4,"k":20,"u":925,"v":1120,"z":-55},{"p":4,"k":20,"u":895,"v":1000,"z":-55},
{"p":4,"k":21,"u":560,"v":830,"z":40},{"p":4,"k":21,"u":700,"v":850,"z":40},{"p":4,"k":21,"u":800,"v":885,"z":40},{"p":4,"k":21,"u":865,"v":940,"z":40},{"p":4,"k":21,"u":870,"v":960,"z":40},{"p":4,"k":21,"u":790,"v":905,"z":40},{"p":4,"k":21,"u":680,"v":868,"z":40},{"p":4,"k":21,"u":590,"v":845,"z":40},
{"p":4,"k":22,"u":590,"v":845,"z":22},{"p":4,"k":22,"u":680,"v":868,"z":22},{"p":4,"k":22,"u":790,"v":905,"z":22},{"p":4,"k":22,"u":870,"v":960,"z":22},{"p":4,"k":22,"u":885,"v":1000,"z":22},{"p":4,"k":22,"u":770,"v":930,"z":22},{"p":4,"k":22,"u":670,"v":890,"z":22},{"p":4,"k":22,"u":620,"v":865,"z":22},
{"p":4,"k":23,"u":620,"v":865,"z":10},{"p":4,"k":23,"u":670,"v":890,"z":10},{"p":4,"k":23,"u":770,"v":930,"z":10},{"p":4,"k":23,"u":885,"v":1000,"z":10},{"p":4,"k":23,"u":895,"v":1040,"z":10},{"p":4,"k":23,"u":750,"v":960,"z":10},{"p":4,"k":23,"u":680,"v":920,"z":10},
{"p":4,"k":24,"u":680,"v":920,"z":-8},{"p":4,"k":24,"u":750,"v":960,"z":-8},{"p":4,"k":24,"u":895,"v":1040,"z":-8},{"p":4,"k":24,"u":905,"v":1075,"z":-8},{"p":4,"k":24,"u":770,"v":1010,"z":-8},{"p":4,"k":24,"u":720,"v":960,"z":-8},
{"p":4,"k":25,"u":720,"v":960,"z":-22},{"p":4,"k":25,"u":770,"v":1010,"z":-22},{"p":4,"k":25,"u":905,"v":1075,"z":-22},{"p":4,"k":25,"u":925,"v":1120,"z":-22},{"p":4,"k":25,"u":820,"v":1070,"z":-22},
{"p":4,"k":26,"u":820,"v":1070,"z":-35},{"p":4,"k":26,"u":925,"v":1120,"z":-35},{"p":4,"k":26,"u":945,"v":1175,"z":-35},{"p":4,"k":26,"u":860,"v":1110,"z":-35},
{"p":4,"k":27,"u":830,"v":930,"z":-5},{"p":4,"k":27,"u":860,"v":950,"z":-5},{"p":4,"k":27,"u":858,"v":1075,"z":-5},{"p":4,"k":27,"u":845,"v":1020,"z":-5},
{"p":4,"s":1,"u":1345,"v":730,"a":1400,"b":1100,"z":-95},{"p":4,"s":1,"u":1335,"v":750,"a":1385,"b":1050,"z":-70},{"p":4,"s":1,"u":1322,"v":760,"a":1340,"b":880,"z":-40},{"p":4,"s":1,"u":1310,"v":765,"a":1325,"b":860,"z":-25},{"p":4,"s":1,"u":1295,"v":770,"a":1305,"b":860,"z":-40},{"p":4,"s":1,"u":1280,"v":770,"a":1288,"b":850,"z":-25},{"p":4,"s":1,"u":1265,"v":780,"a":1275,"b":850,"z":-50},{"p":4,"s":1,"u":895,"v":712,"a":895,"b":1005,"z":65},{"p":4,"s":1,"u":885,"v":720,"a":885,"b":950,"z":-50},{"p":4,"s":1,"u":872,"v":715,"a":872,"b":945,"z":-30},{"p":4,"s":1,"u":860,"v":730,"a":860,"b":935,"z":30},{"p":4,"s":1,"u":848,"v":730,"a":848,"b":925,"z":-20},{"p":4,"s":1,"u":835,"v":760,"a":835,"b":905,"z":35},{"p":4,"s":1,"u":820,"v":780,"a":820,"b":890,"z":20},{"p":4,"s":1,"u":805,"v":800,"a":805,"b":880,"z":28},{"p":4,"s":1,"u":790,"v":810,"a":790,"b":870,"z":40},

{"p":5,"g":1,"u":997,"v":255,"a":997,"b":855},{"p":5,"g":1,"u":1428,"v":525,"a":1428,"b":1130},{"p":5,"g":1,"u":716,"v":358,"a":716,"b":958},{"p":5,"g":1,"u":1215,"v":390,"a":1215,"b":992},{"p":5,"g":1,"u":432,"v":462,"a":997,"b":255},{"p":5,"g":1,"u":997,"v":255,"a":1428,"b":525},{"p":5,"g":1,"u":432,"v":760,"a":997,"b":553},{"p":5,"g":1,"u":997,"v":553,"a":1428,"b":828},{"p":5,"g":1,"u":432,"v":1063,"a":997,"b":855},{"p":5,"g":1,"u":997,"v":855,"a":1428,"b":1130},{"p":5,"g":1,"u":716,"v":958,"a":1148,"b":1235},{"p":5,"g":1,"u":648,"v":1202,"a":1215,"b":992},
{"p":5,"g":2,"u":435,"v":462,"a":435,"b":1063},{"p":5,"g":2,"u":435,"v":1063,"a":865,"b":1340},{"p":5,"g":2,"u":865,"v":1340,"a":1430,"b":1130},{"p":5,"g":2,"u":435,"v":462,"a":425,"b":460},{"p":5,"g":2,"u":435,"v":760,"a":425,"b":758},{"p":5,"g":2,"u":435,"v":1063,"a":423,"b":1068},{"p":5,"g":2,"u":648,"v":1202,"a":640,"b":1208},{"p":5,"g":2,"u":1148,"v":1235,"a":1158,"b":1243},{"p":5,"g":2,"u":865,"v":1340,"a":852,"b":1342},{"p":5,"g":2,"u":1430,"v":1130,"a":1442,"b":1136},
{"p":5,"c":"h","l":"SNF-5","u":930,"v":140},{"p":5,"c":"f","l":"Phase(°)","u":112,"v":765},{"p":5,"c":"t","l":"100","u":325,"v":425},{"p":5,"c":"t","l":"0","u":370,"v":725},{"p":5,"c":"t","l":"−100","u":300,"v":1027},{"p":5,"c":"t","l":"90","u":347,"v":1137},{"p":5,"c":"t","l":"45","u":560,"v":1275},{"p":5,"c":"t","l":"0","u":800,"v":1412},{"p":5,"c":"t","l":"0","u":926,"v":1422},{"p":5,"c":"t","l":"180","u":1252,"v":1317},{"p":5,"c":"t","l":"360","u":1532,"v":1215},{"p":5,"c":"i","l":"θ","u":483,"v":1400},{"p":5,"c":"t","l":"(°)","u":555,"v":1405},{"p":5,"c":"i","l":"ϕ","u":1242,"v":1445},{"p":5,"c":"t","l":"(°)","u":1317,"v":1445},
{"p":5,"k":30,"u":800,"v":690,"z":4},{"p":5,"k":30,"u":800,"v":600,"z":4},{"p":5,"k":30,"u":997,"v":520,"z":4},{"p":5,"k":30,"u":1100,"v":750,"z":4},{"p":5,"k":30,"u":970,"v":800,"z":4},
{"p":5,"k":1,"u":930,"v":700,"z":-16},{"p":5,"k":1,"u":1000,"v":700,"z":-16},{"p":5,"k":1,"u":1170,"v":945,"z":-16},{"p":5,"k":1,"u":1130,"v":940,"z":-16},{"p":5,"k":1,"u":1070,"v":990,"z":-16},{"p":5,"k":1,"u":1030,"v":950,"z":-16},{"p":5,"k":1,"u":970,"v":800,"z":-16},
{"p":5,"k":2,"u":850,"v":580,"z":-8},{"p":5,"k":2,"u":900,"v":560,"z":-8},{"p":5,"k":2,"u":1250,"v":925,"z":-8},{"p":5,"k":2,"u":1210,"v":955,"z":-8},{"p":5,"k":2,"u":1170,"v":945,"z":-8},{"p":5,"k":2,"u":930,"v":700,"z":-8},
{"p":5,"k":3,"u":900,"v":560,"z":0},{"p":5,"k":3,"u":960,"v":535,"z":0},{"p":5,"k":3,"u":1300,"v":870,"z":0},{"p":5,"k":3,"u":1285,"v":872,"z":0},{"p":5,"k":3,"u":1250,"v":925,"z":0},
{"p":5,"k":4,"u":960,"v":535,"z":8},{"p":5,"k":4,"u":997,"v":520,"z":8},{"p":5,"k":4,"u":1355,"v":825,"z":8},{"p":5,"k":4,"u":1335,"v":865,"z":8},{"p":5,"k":4,"u":1325,"v":875,"z":8},{"p":5,"k":4,"u":1300,"v":870,"z":8},
{"p":5,"k":5,"u":997,"v":520,"z":15},{"p":5,"k":5,"u":1040,"v":520,"z":15},{"p":5,"k":5,"u":1375,"v":780,"z":15},{"p":5,"k":5,"u":1355,"v":825,"z":15},
{"p":5,"k":6,"u":1040,"v":520,"z":25},{"p":5,"k":6,"u":1085,"v":517,"z":25},{"p":5,"k":6,"u":1390,"v":730,"z":25},{"p":5,"k":6,"u":1375,"v":780,"z":25},
{"p":5,"k":7,"u":1085,"v":517,"z":38},{"p":5,"k":7,"u":1130,"v":515,"z":38},{"p":5,"k":7,"u":1340,"v":640,"z":38},{"p":5,"k":7,"u":1405,"v":690,"z":38},{"p":5,"k":7,"u":1428,"v":755,"z":38},{"p":5,"k":7,"u":1410,"v":710,"z":38},{"p":5,"k":7,"u":1390,"v":730,"z":38},
{"p":5,"k":8,"u":1130,"v":515,"z":55},{"p":5,"k":8,"u":1210,"v":513,"z":55},{"p":5,"k":8,"u":1350,"v":610,"z":55},{"p":5,"k":8,"u":1385,"v":630,"z":55},{"p":5,"k":8,"u":1425,"v":680,"z":55},{"p":5,"k":8,"u":1405,"v":690,"z":55},{"p":5,"k":8,"u":1340,"v":640,"z":55},
{"p":5,"k":9,"u":1210,"v":513,"z":72},{"p":5,"k":9,"u":1300,"v":530,"z":72},{"p":5,"k":9,"u":1355,"v":575,"z":72},{"p":5,"k":9,"u":1385,"v":630,"z":72},{"p":5,"k":9,"u":1350,"v":610,"z":72},
{"p":5,"k":10,"u":435,"v":730,"z":12},{"p":5,"k":10,"u":997,"v":520,"z":12},{"p":5,"k":10,"u":900,"v":600,"z":12},{"p":5,"k":10,"u":800,"v":690,"z":12},{"p":5,"k":10,"u":600,"v":670,"z":12},
{"p":5,"k":11,"u":980,"v":790,"z":-5},{"p":5,"k":11,"u":1040,"v":850,"z":-5},{"p":5,"k":11,"u":1070,"v":990,"z":-5},{"p":5,"k":11,"u":1030,"v":950,"z":-5},
{"p":5,"k":12,"u":970,"v":800,"z":10},{"p":5,"k":12,"u":1010,"v":830,"z":10},{"p":5,"k":12,"u":1040,"v":950,"z":10},{"p":5,"k":12,"u":1030,"v":950,"z":10},{"p":5,"k":12,"u":1000,"v":890,"z":10},
{"p":5,"k":13,"u":975,"v":810,"z":25},{"p":5,"k":13,"u":1000,"v":840,"z":25},{"p":5,"k":13,"u":1015,"v":910,"z":25},{"p":5,"k":13,"u":1000,"v":880,"z":25},
{"p":5,"k":14,"u":960,"v":790,"z":55},{"p":5,"k":14,"u":975,"v":795,"z":55},{"p":5,"k":14,"u":1005,"v":850,"z":55},{"p":5,"k":14,"u":990,"v":860,"z":55},
{"p":5,"k":15,"u":435,"v":730,"z":22},{"p":5,"k":15,"u":510,"v":705,"z":22},{"p":5,"k":15,"u":530,"v":732,"z":22},
{"p":5,"k":16,"u":510,"v":705,"z":45},{"p":5,"k":16,"u":590,"v":685,"z":45},{"p":5,"k":16,"u":610,"v":728,"z":45},{"p":5,"k":16,"u":530,"v":732,"z":45},
{"p":5,"k":17,"u":590,"v":685,"z":68},{"p":5,"k":17,"u":680,"v":677,"z":68},{"p":5,"k":17,"u":720,"v":740,"z":68},{"p":5,"k":17,"u":610,"v":728,"z":68},
{"p":5,"k":18,"u":680,"v":677,"z":78},{"p":5,"k":18,"u":800,"v":690,"z":78},{"p":5,"k":18,"u":970,"v":795,"z":78},{"p":5,"k":18,"u":960,"v":840,"z":78},{"p":5,"k":18,"u":850,"v":780,"z":78},{"p":5,"k":18,"u":770,"v":760,"z":78},{"p":5,"k":18,"u":720,"v":740,"z":78},
{"p":5,"k":19,"u":765,"v":755,"z":-85},{"p":5,"k":19,"u":803,"v":790,"z":-85},{"p":5,"k":19,"u":805,"v":1290,"z":-85},{"p":5,"k":19,"u":770,"v":1250,"z":-85},
{"p":5,"k":20,"u":805,"v":760,"z":-72},{"p":5,"k":20,"u":958,"v":835,"z":-72},{"p":5,"k":20,"u":958,"v":1280,"z":-72},{"p":5,"k":20,"u":875,"v":1318,"z":-72},{"p":5,"k":20,"u":810,"v":1295,"z":-72},
{"p":5,"k":21,"u":770,"v":650,"z":95},{"p":5,"k":21,"u":800,"v":685,"z":95},{"p":5,"k":21,"u":803,"v":780,"z":95},{"p":5,"k":21,"u":770,"v":760,"z":95},
{"p":5,"k":22,"u":810,"v":1295,"z":-90},{"p":5,"k":22,"u":810,"v":1240,"z":-90},{"p":5,"k":22,"u":958,"v":1240,"z":-90},{"p":5,"k":22,"u":958,"v":1280,"z":-90},{"p":5,"k":22,"u":945,"v":1283,"z":-90},{"p":5,"k":22,"u":905,"v":1270,"z":-90},{"p":5,"k":22,"u":875,"v":1318,"z":-90},
{"p":5,"s":1,"u":772,"v":760,"a":772,"b":1250,"z":-98},{"p":5,"s":1,"u":785,"v":775,"a":785,"b":1268,"z":98},{"p":5,"s":1,"u":798,"v":790,"a":798,"b":1285,"z":76},{"p":5,"s":1,"u":812,"v":760,"a":812,"b":1050,"z":50},{"p":5,"s":1,"u":820,"v":850,"a":820,"b":1100,"z":40},{"p":5,"s":1,"u":830,"v":900,"a":830,"b":1200,"z":30},{"p":5,"s":1,"u":814,"v":1200,"a":814,"b":1290,"z":-25},{"p":5,"s":1,"u":842,"v":1000,"a":842,"b":1180,"z":22},{"p":5,"s":1,"u":850,"v":720,"a":850,"b":900,"z":-35},{"p":5,"s":1,"u":880,"v":760,"a":880,"b":930,"z":-50},{"p":5,"s":1,"u":892,"v":760,"a":892,"b":1000,"z":-60},{"p":5,"s":1,"u":905,"v":790,"a":905,"b":1100,"z":-35},{"p":5,"s":1,"u":920,"v":800,"a":920,"b":1000,"z":-30},{"p":5,"s":1,"u":935,"v":815,"a":935,"b":900,"z":40},{"p":5,"s":1,"u":945,"v":830,"a":945,"b":1130,"z":-35},{"p":5,"s":1,"u":954,"v":840,"a":954,"b":1130,"z":-28},

{"p":6,"g":1,"u":997,"v":255,"a":997,"b":855},{"p":6,"g":1,"u":1428,"v":525,"a":1428,"b":1130},{"p":6,"g":1,"u":712,"v":358,"a":712,"b":958},{"p":6,"g":1,"u":1215,"v":390,"a":1215,"b":992},{"p":6,"g":1,"u":430,"v":462,"a":997,"b":255},{"p":6,"g":1,"u":997,"v":255,"a":1428,"b":525},{"p":6,"g":1,"u":430,"v":760,"a":997,"b":553},{"p":6,"g":1,"u":997,"v":553,"a":1428,"b":828},{"p":6,"g":1,"u":430,"v":1063,"a":997,"b":855},{"p":6,"g":1,"u":997,"v":855,"a":1428,"b":1130},{"p":6,"g":1,"u":712,"v":958,"a":1148,"b":1235},{"p":6,"g":1,"u":645,"v":1202,"a":1215,"b":992},
{"p":6,"g":2,"u":430,"v":462,"a":430,"b":1063},{"p":6,"g":2,"u":430,"v":1063,"a":860,"b":1338},{"p":6,"g":2,"u":860,"v":1338,"a":1430,"b":1130},{"p":6,"g":2,"u":430,"v":462,"a":420,"b":460},{"p":6,"g":2,"u":430,"v":760,"a":420,"b":758},{"p":6,"g":2,"u":430,"v":1063,"a":418,"b":1068},{"p":6,"g":2,"u":645,"v":1202,"a":637,"b":1208},{"p":6,"g":2,"u":1148,"v":1235,"a":1158,"b":1243},{"p":6,"g":2,"u":860,"v":1338,"a":848,"b":1340},{"p":6,"g":2,"u":1430,"v":1130,"a":1442,"b":1136},
{"p":6,"c":"h","l":"SNF-6","u":925,"v":140},{"p":6,"c":"f","l":"Phase(°)","u":108,"v":765},{"p":6,"c":"t","l":"100","u":320,"v":425},{"p":6,"c":"t","l":"0","u":362,"v":725},{"p":6,"c":"t","l":"−100","u":296,"v":1027},{"p":6,"c":"t","l":"90","u":340,"v":1137},{"p":6,"c":"t","l":"45","u":558,"v":1275},{"p":6,"c":"t","l":"0","u":795,"v":1412},{"p":6,"c":"t","l":"0","u":926,"v":1422},{"p":6,"c":"t","l":"180","u":1252,"v":1317},{"p":6,"c":"t","l":"360","u":1532,"v":1215},{"p":6,"c":"i","l":"θ","u":473,"v":1390},{"p":6,"c":"t","l":"(°)","u":545,"v":1395},{"p":6,"c":"i","l":"ϕ","u":1233,"v":1445},{"p":6,"c":"t","l":"(°)","u":1308,"v":1445},
{"p":6,"k":30,"u":997,"v":520,"z":12},{"p":6,"k":30,"u":1200,"v":513,"z":12},{"p":6,"k":30,"u":1300,"v":535,"z":12},{"p":6,"k":30,"u":1360,"v":580,"z":12},{"p":6,"k":30,"u":1425,"v":640,"z":12},{"p":6,"k":30,"u":1428,"v":735,"z":12},{"p":6,"k":30,"u":1400,"v":680,"z":12},{"p":6,"k":30,"u":1365,"v":790,"z":12},{"p":6,"k":30,"u":1315,"v":905,"z":12},{"p":6,"k":30,"u":890,"v":760,"z":12},{"p":6,"k":30,"u":870,"v":580,"z":12},
{"p":6,"k":1,"u":870,"v":580,"z":-6},{"p":6,"k":1,"u":997,"v":520,"z":-6},{"p":6,"k":1,"u":1315,"v":905,"z":-6},{"p":6,"k":1,"u":1270,"v":890,"z":-6},{"p":6,"k":1,"u":1215,"v":940,"z":-6},{"p":6,"k":1,"u":1170,"v":975,"z":-6},{"p":6,"k":1,"u":1140,"v":970,"z":-6},{"p":6,"k":1,"u":1090,"v":940,"z":-6},{"p":6,"k":1,"u":1055,"v":968,"z":-6},{"p":6,"k":1,"u":1000,"v":930,"z":-6},{"p":6,"k":1,"u":960,"v":905,"z":-6},{"p":6,"k":1,"u":890,"v":760,"z":-6},
{"p":6,"k":2,"u":890,"v":590,"z":4},{"p":6,"k":2,"u":997,"v":520,"z":4},{"p":6,"k":2,"u":1365,"v":790,"z":4},{"p":6,"k":2,"u":1310,"v":905,"z":4},{"p":6,"k":2,"u":1090,"v":680,"z":4},
{"p":6,"k":3,"u":997,"v":520,"z":12},{"p":6,"k":3,"u":1075,"v":517,"z":12},{"p":6,"k":3,"u":1395,"v":680,"z":12},{"p":6,"k":3,"u":1365,"v":790,"z":12},{"p":6,"k":3,"u":1200,"v":690,"z":12},{"p":6,"k":3,"u":1090,"v":610,"z":12},
{"p":6,"k":4,"u":1075,"v":517,"z":22},{"p":6,"k":4,"u":1200,"v":515,"z":22},{"p":6,"k":4,"u":1400,"v":680,"z":22},{"p":6,"k":4,"u":1395,"v":690,"z":22},{"p":6,"k":4,"u":1290,"v":630,"z":22},
{"p":6,"k":5,"u":1190,"v":515,"z":34},{"p":6,"k":5,"u":1260,"v":518,"z":34},{"p":6,"k":5,"u":1425,"v":640,"z":34},{"p":6,"k":5,"u":1428,"v":735,"z":34},{"p":6,"k":5,"u":1400,"v":680,"z":34},{"p":6,"k":5,"u":1310,"v":600,"z":34},
{"p":6,"k":6,"u":1230,"v":515,"z":42},{"p":6,"k":6,"u":1300,"v":535,"z":42},{"p":6,"k":6,"u":1360,"v":580,"z":42},{"p":6,"k":6,"u":1390,"v":615,"z":42},{"p":6,"k":6,"u":1310,"v":575,"z":42},
{"p":6,"k":7,"u":430,"v":730,"z":8},{"p":6,"k":7,"u":997,"v":520,"z":8},{"p":6,"k":7,"u":870,"v":600,"z":8},{"p":6,"k":7,"u":770,"v":660,"z":8},{"p":6,"k":7,"u":600,"v":690,"z":8},
{"p":6,"k":8,"u":430,"v":730,"z":22},{"p":6,"k":8,"u":520,"v":700,"z":22},{"p":6,"k":8,"u":580,"v":725,"z":22},
{"p":6,"k":9,"u":520,"v":700,"z":34},{"p":6,"k":9,"u":620,"v":680,"z":34},{"p":6,"k":9,"u":660,"v":725,"z":34},{"p":6,"k":9,"u":560,"v":725,"z":34},
{"p":6,"k":10,"u":620,"v":680,"z":42},{"p":6,"k":10,"u":770,"v":665,"z":42},{"p":6,"k":10,"u":770,"v":760,"z":42},{"p":6,"k":10,"u":720,"v":735,"z":42},{"p":6,"k":10,"u":660,"v":725,"z":42},
{"p":6,"k":11,"u":890,"v":770,"z":25},{"p":6,"k":11,"u":960,"v":850,"z":25},{"p":6,"k":11,"u":980,"v":910,"z":25},{"p":6,"k":11,"u":955,"v":905,"z":25},{"p":6,"k":11,"u":890,"v":800,"z":25},
{"p":6,"k":12,"u":752,"v":750,"z":10},{"p":6,"k":12,"u":775,"v":790,"z":10},{"p":6,"k":12,"u":815,"v":850,"z":10},{"p":6,"k":12,"u":860,"v":1130,"z":10},{"p":6,"k":12,"u":868,"v":1295,"z":10},{"p":6,"k":12,"u":780,"v":1245,"z":10},{"p":6,"k":12,"u":755,"v":1200,"z":10},
{"p":6,"k":13,"u":760,"v":1160,"z":-45},{"p":6,"k":13,"u":860,"v":1200,"z":-45},{"p":6,"k":13,"u":868,"v":1295,"z":-45},{"p":6,"k":13,"u":780,"v":1245,"z":-45},{"p":6,"k":13,"u":755,"v":1200,"z":-45},
{"p":6,"k":14,"u":890,"v":790,"z":-28},{"p":6,"k":14,"u":955,"v":900,"z":-28},{"p":6,"k":14,"u":955,"v":1295,"z":-28},{"p":6,"k":14,"u":905,"v":1285,"z":-28},{"p":6,"k":14,"u":868,"v":1295,"z":-28},{"p":6,"k":14,"u":885,"v":1250,"z":-28},
{"p":6,"k":15,"u":885,"v":1180,"z":-55},{"p":6,"k":15,"u":955,"v":1150,"z":-55},{"p":6,"k":15,"u":955,"v":1295,"z":-55},{"p":6,"k":15,"u":905,"v":1285,"z":-55},{"p":6,"k":15,"u":880,"v":1290,"z":-55},
{"p":6,"k":31,"u":755,"v":730,"z":40},{"p":6,"k":31,"u":775,"v":730,"z":40},{"p":6,"k":31,"u":815,"v":820,"z":40},{"p":6,"k":31,"u":835,"v":950,"z":40},{"p":6,"k":31,"u":860,"v":1130,"z":40},{"p":6,"k":31,"u":850,"v":1130,"z":40},{"p":6,"k":31,"u":815,"v":880,"z":40},{"p":6,"k":31,"u":790,"v":810,"z":40},{"p":6,"k":31,"u":752,"v":750,"z":40},
{"p":6,"k":16,"u":770,"v":630,"z":-75},{"p":6,"k":16,"u":805,"v":628,"z":-75},{"p":6,"k":16,"u":885,"v":660,"z":-75},{"p":6,"k":16,"u":885,"v":1250,"z":-75},{"p":6,"k":16,"u":860,"v":1250,"z":-75},{"p":6,"k":16,"u":860,"v":1130,"z":-75},{"p":6,"k":16,"u":815,"v":850,"z":-75},{"p":6,"k":16,"u":770,"v":720,"z":-75},
{"p":6,"s":1,"u":782,"v":640,"a":782,"b":770,"z":-62},{"p":6,"s":1,"u":798,"v":640,"a":798,"b":810,"z":-68},{"p":6,"s":1,"u":814,"v":645,"a":814,"b":840,"z":-60},{"p":6,"s":1,"u":830,"v":648,"a":830,"b":880,"z":-70},{"p":6,"s":1,"u":846,"v":655,"a":846,"b":900,"z":-64},{"p":6,"s":1,"u":762,"v":900,"a":762,"b":1160,"z":-35},{"p":6,"s":1,"u":778,"v":850,"a":778,"b":1200,"z":25},{"p":6,"s":1,"u":794,"v":900,"a":794,"b":1200,"z":-25},{"p":6,"s":1,"u":810,"v":950,"a":810,"b":1190,"z":30},{"p":6,"s":1,"u":826,"v":1000,"a":826,"b":1220,"z":-15},{"p":6,"s":1,"u":842,"v":1050,"a":842,"b":1230,"z":-5},{"p":6,"s":1,"u":900,"v":820,"a":900,"b":1200,"z":-45},{"p":6,"s":1,"u":915,"v":850,"a":915,"b":1250,"z":-20},{"p":6,"s":1,"u":930,"v":880,"a":930,"b":1100,"z":-38},{"p":6,"s":1,"u":945,"v":900,"a":945,"b":1050,"z":-14},

{"p":7,"g":1,"u":992,"v":255,"a":992,"b":858},{"p":7,"g":1,"u":1422,"v":520,"a":1422,"b":1130},{"p":7,"g":1,"u":711,"v":358,"a":711,"b":958},{"p":7,"g":1,"u":1210,"v":390,"a":1210,"b":992},{"p":7,"g":1,"u":430,"v":490,"a":992,"b":282},{"p":7,"g":1,"u":992,"v":282,"a":1422,"b":555},{"p":7,"g":1,"u":430,"v":757,"a":992,"b":548},{"p":7,"g":1,"u":992,"v":548,"a":1422,"b":825},{"p":7,"g":1,"u":430,"v":1067,"a":992,"b":858},{"p":7,"g":1,"u":992,"v":858,"a":1422,"b":1130},{"p":7,"g":1,"u":430,"v":1027,"a":992,"b":820},{"p":7,"g":1,"u":711,"v":958,"a":1143,"b":1235},{"p":7,"g":1,"u":645,"v":1204,"a":1210,"b":992},
{"p":7,"g":2,"u":430,"v":465,"a":430,"b":1067},{"p":7,"g":2,"u":430,"v":1067,"a":860,"b":1338},{"p":7,"g":2,"u":860,"v":1338,"a":1424,"b":1130},{"p":7,"g":2,"u":430,"v":490,"a":420,"b":488},{"p":7,"g":2,"u":430,"v":757,"a":420,"b":755},{"p":7,"g":2,"u":430,"v":1027,"a":420,"b":1025},{"p":7,"g":2,"u":645,"v":1204,"a":637,"b":1210},{"p":7,"g":2,"u":1143,"v":1235,"a":1153,"b":1243},{"p":7,"g":2,"u":860,"v":1338,"a":848,"b":1340},{"p":7,"g":2,"u":1424,"v":1130,"a":1436,"b":1136},
{"p":7,"c":"h","l":"SNF-7","u":925,"v":140},{"p":7,"c":"f","l":"Phase(°)","u":108,"v":765},{"p":7,"c":"t","l":"100","u":320,"v":455},{"p":7,"c":"t","l":"0","u":362,"v":725},{"p":7,"c":"t","l":"−100","u":296,"v":995},{"p":7,"c":"t","l":"90","u":340,"v":1137},{"p":7,"c":"t","l":"45","u":553,"v":1275},{"p":7,"c":"t","l":"0","u":795,"v":1412},{"p":7,"c":"t","l":"0","u":921,"v":1422},{"p":7,"c":"t","l":"180","u":1248,"v":1317},{"p":7,"c":"t","l":"360","u":1528,"v":1215},{"p":7,"c":"i","l":"θ","u":442,"v":1418},{"p":7,"c":"t","l":"(°)","u":514,"v":1423},{"p":7,"c":"i","l":"ϕ","u":1237,"v":1445},{"p":7,"c":"t","l":"(°)","u":1312,"v":1445},
{"p":7,"k":1,"u":430,"v":757,"z":-2},{"p":7,"k":1,"u":992,"v":548,"z":-2},{"p":7,"k":1,"u":1115,"v":668,"z":-2},{"p":7,"k":1,"u":1060,"v":680,"z":-2},{"p":7,"k":1,"u":1340,"v":870,"z":-2},{"p":7,"k":1,"u":1320,"v":870,"z":-2},{"p":7,"k":1,"u":1285,"v":900,"z":-2},{"p":7,"k":1,"u":1240,"v":890,"z":-2},{"p":7,"k":1,"u":1200,"v":910,"z":-2},{"p":7,"k":1,"u":1165,"v":905,"z":-2},{"p":7,"k":1,"u":1125,"v":930,"z":-2},{"p":7,"k":1,"u":1080,"v":915,"z":-2},{"p":7,"k":1,"u":950,"v":845,"z":-2},{"p":7,"k":1,"u":800,"v":780,"z":-2},{"p":7,"k":1,"u":680,"v":757,"z":-2},
{"p":7,"k":2,"u":860,"v":640,"z":-12},{"p":7,"k":2,"u":992,"v":590,"z":-12},{"p":7,"k":2,"u":1115,"v":665,"z":-12},{"p":7,"k":2,"u":1050,"v":680,"z":-12},{"p":7,"k":2,"u":950,"v":680,"z":-12},
{"p":7,"k":3,"u":1060,"v":700,"z":-8},{"p":7,"k":3,"u":1340,"v":860,"z":-8},{"p":7,"k":3,"u":1320,"v":868,"z":-8},{"p":7,"k":3,"u":1150,"v":790,"z":-8},
{"p":7,"k":4,"u":800,"v":780,"z":8},{"p":7,"k":4,"u":950,"v":845,"z":8},{"p":7,"k":4,"u":1080,"v":915,"z":8},{"p":7,"k":4,"u":1125,"v":930,"z":8},{"p":7,"k":4,"u":1165,"v":905,"z":8},{"p":7,"k":4,"u":1040,"v":850,"z":8},{"p":7,"k":4,"u":900,"v":770,"z":8},
{"p":7,"k":5,"u":1060,"v":680,"z":2},{"p":7,"k":5,"u":1120,"v":672,"z":2},{"p":7,"k":5,"u":1350,"v":830,"z":2},{"p":7,"k":5,"u":1340,"v":870,"z":2},
{"p":7,"k":6,"u":1120,"v":672,"z":14},{"p":7,"k":6,"u":1150,"v":655,"z":14},{"p":7,"k":6,"u":1355,"v":790,"z":14},{"p":7,"k":6,"u":1350,"v":830,"z":14},
{"p":7,"k":7,"u":1150,"v":655,"z":28},{"p":7,"k":7,"u":1180,"v":625,"z":28},{"p":7,"k":7,"u":1365,"v":745,"z":28},{"p":7,"k":7,"u":1355,"v":790,"z":28},
{"p":7,"k":8,"u":1180,"v":625,"z":45},{"p":7,"k":8,"u":1210,"v":585,"z":45},{"p":7,"k":8,"u":1375,"v":700,"z":45},{"p":7,"k":8,"u":1365,"v":745,"z":45},
{"p":7,"k":9,"u":1210,"v":585,"z":65},{"p":7,"k":9,"u":1240,"v":535,"z":65},{"p":7,"k":9,"u":1390,"v":640,"z":65},{"p":7,"k":9,"u":1375,"v":700,"z":65},
{"p":7,"k":10,"u":1240,"v":535,"z":85},{"p":7,"k":10,"u":1275,"v":505,"z":85},{"p":7,"k":10,"u":1405,"v":590,"z":85},{"p":7,"k":10,"u":1390,"v":640,"z":85},
{"p":7,"k":11,"u":1275,"v":505,"z":100},{"p":7,"k":11,"u":1320,"v":490,"z":100},{"p":7,"k":11,"u":1400,"v":515,"z":100},{"p":7,"k":11,"u":1422,"v":530,"z":100},{"p":7,"k":11,"u":1405,"v":590,"z":100},
{"p":7,"k":12,"u":1320,"v":870,"z":-30},{"p":7,"k":12,"u":1345,"v":840,"z":-30},{"p":7,"k":12,"u":1355,"v":840,"z":-30},{"p":7,"k":12,"u":1340,"v":872,"z":-30},
{"p":7,"k":13,"u":430,"v":757,"z":0},{"p":7,"k":13,"u":600,"v":700,"z":0},{"p":7,"k":13,"u":905,"v":975,"z":0},{"p":7,"k":13,"u":880,"v":1020,"z":0},{"p":7,"k":13,"u":650,"v":880,"z":0},{"p":7,"k":13,"u":520,"v":850,"z":0},
{"p":7,"k":14,"u":640,"v":750,"z":12},{"p":7,"k":14,"u":670,"v":755,"z":12},{"p":7,"k":14,"u":790,"v":840,"z":12},{"p":7,"k":14,"u":925,"v":935,"z":12},{"p":7,"k":14,"u":905,"v":975,"z":12},{"p":7,"k":14,"u":740,"v":850,"z":12},
{"p":7,"k":15,"u":670,"v":755,"z":25},{"p":7,"k":15,"u":700,"v":760,"z":25},{"p":7,"k":15,"u":830,"v":825,"z":25},{"p":7,"k":15,"u":940,"v":900,"z":25},{"p":7,"k":15,"u":925,"v":935,"z":25},{"p":7,"k":15,"u":790,"v":840,"z":25},
{"p":7,"k":16,"u":700,"v":760,"z":42},{"p":7,"k":16,"u":760,"v":770,"z":42},{"p":7,"k":16,"u":860,"v":820,"z":42},{"p":7,"k":16,"u":950,"v":870,"z":42},{"p":7,"k":16,"u":940,"v":900,"z":42},{"p":7,"k":16,"u":830,"v":825,"z":42},
{"p":7,"k":17,"u":760,"v":770,"z":62},{"p":7,"k":17,"u":850,"v":795,"z":62},{"p":7,"k":17,"u":950,"v":845,"z":62},{"p":7,"k":17,"u":950,"v":870,"z":62},{"p":7,"k":17,"u":860,"v":820,"z":62},
{"p":7,"k":18,"u":520,"v":850,"z":-14},{"p":7,"k":18,"u":650,"v":880,"z":-14},{"p":7,"k":18,"u":880,"v":1020,"z":-14},{"p":7,"k":18,"u":860,"v":1060,"z":-14},{"p":7,"k":18,"u":600,"v":950,"z":-14},
{"p":7,"k":19,"u":600,"v":950,"z":-25},{"p":7,"k":19,"u":860,"v":1060,"z":-25},{"p":7,"k":19,"u":850,"v":1090,"z":-25},{"p":7,"k":19,"u":840,"v":1140,"z":-25},{"p":7,"k":19,"u":700,"v":1060,"z":-25},
{"p":7,"k":20,"u":700,"v":1060,"z":-38},{"p":7,"k":20,"u":850,"v":1090,"z":-38},{"p":7,"k":20,"u":845,"v":1145,"z":-38},
{"p":7,"k":21,"u":955,"v":870,"z":6},{"p":7,"k":21,"u":1080,"v":915,"z":6},{"p":7,"k":21,"u":1050,"v":950,"z":6},{"p":7,"k":21,"u":1035,"v":985,"z":6},{"p":7,"k":21,"u":955,"v":950,"z":6},
{"p":7,"k":22,"u":955,"v":930,"z":-5},{"p":7,"k":22,"u":1035,"v":985,"z":-5},{"p":7,"k":22,"u":1020,"v":1040,"z":-5},{"p":7,"k":22,"u":955,"v":1020,"z":-5},
{"p":7,"k":23,"u":955,"v":1000,"z":-25},{"p":7,"k":23,"u":1020,"v":1040,"z":-25},{"p":7,"k":23,"u":1005,"v":1090,"z":-25},{"p":7,"k":23,"u":955,"v":1090,"z":-25},
{"p":7,"k":24,"u":955,"v":1085,"z":-50},{"p":7,"k":24,"u":1005,"v":1090,"z":-50},{"p":7,"k":24,"u":990,"v":1150,"z":-50},{"p":7,"k":24,"u":955,"v":1150,"z":-50},
{"p":7,"k":25,"u":955,"v":1145,"z":-78},{"p":7,"k":25,"u":990,"v":1150,"z":-78},{"p":7,"k":25,"u":955,"v":1300,"z":-78},
{"p":7,"k":30,"u":880,"v":1020,"z":-25},{"p":7,"k":30,"u":905,"v":975,"z":-25},{"p":7,"k":30,"u":952,"v":880,"z":-25},{"p":7,"k":30,"u":900,"v":1030,"z":-25},{"p":7,"k":30,"u":905,"v":1245,"z":-25},{"p":7,"k":30,"u":878,"v":1170,"z":-25},{"p":7,"k":30,"u":840,"v":1140,"z":-25},{"p":7,"k":30,"u":860,"v":1060,"z":-25},
{"p":7,"k":26,"u":840,"v":1140,"z":-85},{"p":7,"k":26,"u":878,"v":1170,"z":-85},{"p":7,"k":26,"u":950,"v":1298,"z":-85},{"p":7,"k":26,"u":880,"v":1240,"z":-85},
{"p":7,"k":27,"u":900,"v":1030,"z":52},{"p":7,"k":27,"u":952,"v":880,"z":52},{"p":7,"k":27,"u":952,"v":1300,"z":52},{"p":7,"k":27,"u":905,"v":1245,"z":52},
{"p":7,"k":28,"u":825,"v":1110,"z":-8},{"p":7,"k":28,"u":855,"v":1010,"z":-8},{"p":7,"k":28,"u":860,"v":1150,"z":-8},{"p":7,"k":28,"u":845,"v":1140,"z":-8},
{"p":7,"s":1,"u":890,"v":1060,"a":890,"b":1250,"z":30},{"p":7,"s":1,"u":878,"v":1130,"a":878,"b":1220,"z":-65},{"p":7,"s":1,"u":868,"v":1150,"a":868,"b":1190,"z":10},{"p":7,"s":1,"u":902,"v":1130,"a":902,"b":1250,"z":-45},{"p":7,"s":1,"u":1358,"v":735,"a":1345,"b":860,"z":80}
]},
"facet":{"field":"p","type":"ordinal","title":null,"header":{"title":null,"labels":false,"labelExpr":"''","labelFontSize":1,"labelPadding":0,"labelColor":"#ffffff"}},
"spec":{"width":900,"height":793,
"encoding":{"x":{"field":"u","type":"quantitative","axis":null,"scale":{"domain":[0,1568]}},"y":{"field":"v","type":"quantitative","axis":null,"scale":{"domain":[1554,0]}}},
"layer":[
{"transform":[{"filter":"datum.g==1"}],"mark":{"type":"rule","color":"#d2d2d2","strokeWidth":2},"encoding":{"x2":{"field":"a"},"y2":{"field":"b"}}},
{"transform":[{"filter":"datum.k>0"}],"mark":{"type":"line","strokeWidth":1.5,"strokeJoin":"round"},"encoding":{"detail":{"field":"k"},"order":{"value":null},
"fill":{"field":"z","type":"quantitative","legend":null,"scale":{"domain":[-100,-75,-50,-25,0,25,50,75,100],"range":["#00007f","#0000ff","#007fff","#00ffff","#7fff7f","#ffff00","#ff7f00","#ff0000","#7f0000"]}},
"stroke":{"field":"z","type":"quantitative","legend":null,"scale":{"domain":[-100,-75,-50,-25,0,25,50,75,100],"range":["#00007f","#0000ff","#007fff","#00ffff","#7fff7f","#ffff00","#ff7f00","#ff0000","#7f0000"]}}}},
{"transform":[{"filter":"datum.s==1"}],"mark":{"type":"rule","strokeWidth":7},"encoding":{"x2":{"field":"a"},"y2":{"field":"b"},
"color":{"field":"z","type":"quantitative","legend":null,"scale":{"domain":[-100,-75,-50,-25,0,25,50,75,100],"range":["#00007f","#0000ff","#007fff","#00ffff","#7fff7f","#ffff00","#ff7f00","#ff0000","#7f0000"]}}}},
{"transform":[{"filter":"datum.g==2"}],"mark":{"type":"rule","color":"#333333","strokeWidth":2.2},"encoding":{"x2":{"field":"a"},"y2":{"field":"b"}}},
{"transform":[{"filter":"datum.c=='t'"}],"mark":{"type":"text","font":"Liberation Serif","fontSize":52,"color":"#333333","baseline":"middle","align":"center"},"encoding":{"text":{"field":"l"}}},
{"transform":[{"filter":"datum.c=='i'"}],"mark":{"type":"text","font":"Liberation Serif","fontStyle":"italic","fontSize":52,"color":"#333333","baseline":"middle","align":"center"},"encoding":{"text":{"field":"l"}}},
{"transform":[{"filter":"datum.c=='h'"}],"mark":{"type":"text","font":"Liberation Serif","fontSize":56,"color":"#1a1a1a","baseline":"middle","align":"center"},"encoding":{"text":{"field":"l"}}},
{"transform":[{"filter":"datum.c=='f'"}],"mark":{"type":"text","font":"Liberation Serif","fontSize":58,"angle":270,"color":"#333333","baseline":"middle","align":"center"},"encoding":{"text":{"field":"l"}}}
]}}
